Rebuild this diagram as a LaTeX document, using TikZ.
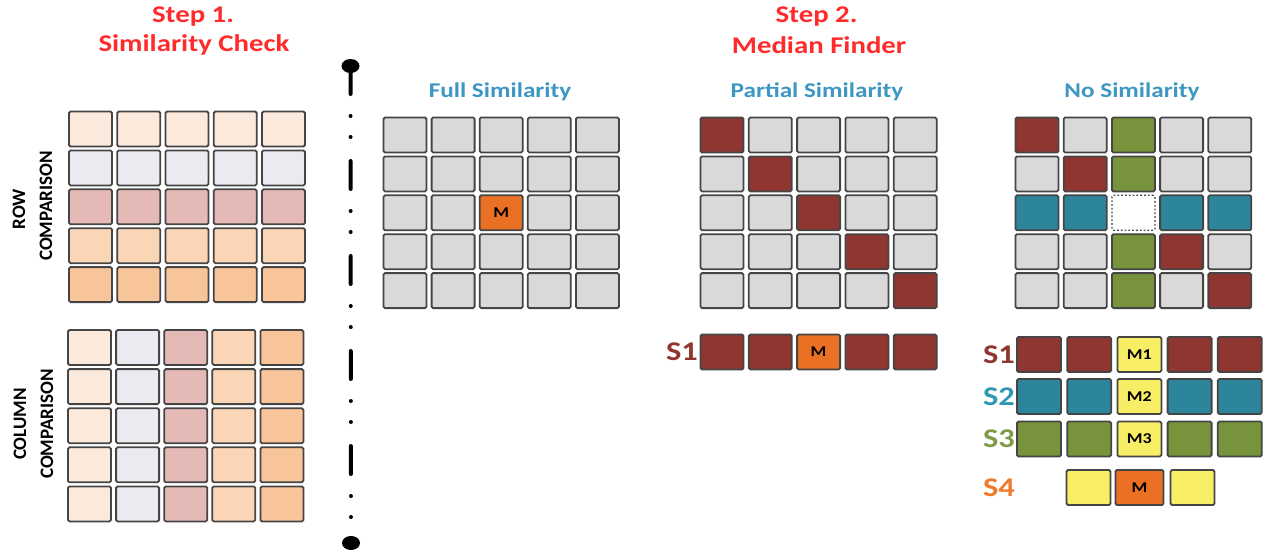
\documentclass[tikz,border=0pt]{standalone}
\usepackage{fontspec}
\setmainfont{Carlito}
\newfontfamily\widefont[FakeStretch=1.2]{Carlito}
\newfontfamily\sidefont{Carlito}
\usetikzlibrary{shapes.geometric}
\definecolor{cA}{HTML}{FBE9DB}
\definecolor{cB}{HTML}{EDE9F1}
\definecolor{cC}{HTML}{E4B9B6}
\definecolor{cD}{HTML}{FAD6B6}
\definecolor{cE}{HTML}{F8C59A}
\definecolor{cgray}{HTML}{D9D9D9}
\definecolor{cred}{HTML}{8F3631}
\definecolor{cgreen}{HTML}{77933C}
\definecolor{cteal}{HTML}{2C859B}
\definecolor{corange}{HTML}{EA7024}
\definecolor{cyellow}{HTML}{F8EE66}
\definecolor{stepred}{HTML}{FF2B2B}
\definecolor{titleblue}{HTML}{3D97C2}
\definecolor{lblteal}{HTML}{3097B5}
\definecolor{lblgreen}{HTML}{7F9B45}
\definecolor{lblorange}{HTML}{F07A2A}
\definecolor{edge}{HTML}{454545}
\tikzset{
  cell/.style={draw=edge, line width=1.8pt, rounded corners=1.5pt, minimum width=43pt, minimum height=35pt, inner sep=0pt, font=\widefont\bfseries\fontsize{15}{15}\selectfont},
  scell/.style={cell, minimum width=44pt},
  dotcell/.style={cell, fill=white, draw=edge, dotted, line width=1.3pt},
  steptitle/.style={text=stepred, font=\widefont\bfseries\fontsize{24}{24}\selectfont},
  sectitle/.style={text=titleblue, font=\widefont\bfseries\fontsize{21}{21}\selectfont},
  slabel/.style={font=\widefont\bfseries\fontsize{27}{27}\selectfont},
  sidelbl/.style={rotate=90, font=\sidefont\bfseries\fontsize{19}{19}\selectfont},
  ball/.style={ellipse, fill=black, minimum width=18pt, minimum height=14pt, inner sep=0pt},
  sepline/.style={line width=4pt, line cap=round, dash pattern=on 28pt off 22pt on 0pt off 21pt on 0pt off 24pt}
}
\begin{document}
\begin{tikzpicture}[x=1pt,y=-1pt]
\useasboundingbox (0,0) rectangle (1266,552);
% titles
\node[steptitle] (s1a) at (193,17) {Step 1.};
\node[steptitle] (s1b) at (194,45) {Similarity Check};
\node[steptitle] (s2a) at (816.5,17) {Step 2.};
\node[steptitle] (s2b) at (819,45) {Median Finder};
\node[sectitle] (tfull) at (500,92) {Full Similarity};
\node[sectitle] (tpart) at (817,92) {Partial Similarity};
\node[sectitle] (tnone) at (1132,92) {No Similarity};
% side labels
\node[sidelbl] (rowa) at (19,209) {ROW};
\node[sidelbl] (rowb) at (46,206) {COMPARISON};
\node[sidelbl] (cola) at (20,424) {COLUMN};
\node[sidelbl] (colb) at (47,424) {COMPARISON};
% row comparison
\foreach \c [count=\j from 0] in {cA,cB,cC,cD,cE}{
  \foreach \i in {0,...,4}{
    \node[cell, fill=\c] (rc-\i-\j) at ({90.5+48.25*\i},{129+38.9*\j}) {};
  }
}
% column comparison
\foreach \c [count=\i from 0] in {cA,cB,cC,cD,cE}{
  \foreach \j in {0,...,4}{
    \node[cell, fill=\c] (cc-\i-\j) at ({89.5+48.1*\i},{347.5+39.1*\j}) {};
  }
}
% separator
\node[ball] (top) at (350.5,66) {};
\node[ball] (bot) at (351,543) {};
\draw[sepline] (top.center) -- (bot.center);
% full similarity
\foreach \i in {0,...,4}{
  \foreach \j in {0,...,4}{
    \ifnum\i=2 \ifnum\j=2
      \node[cell, fill=corange] (fs-\i-\j) at ({405+48.1*\i},{135+38.9*\j}) {M};
    \else
      \node[cell, fill=cgray] (fs-\i-\j) at ({405+48.1*\i},{135+38.9*\j}) {};
    \fi
    \else
      \node[cell, fill=cgray] (fs-\i-\j) at ({405+48.1*\i},{135+38.9*\j}) {};
    \fi
  }
}
% partial similarity
\foreach \i in {0,...,4}{
  \foreach \j in {0,...,4}{
    \ifnum\i=\j
      \node[cell, fill=cred] (ps-\i-\j) at ({722+48.3*\i},{135+38.9*\j}) {};
    \else
      \node[cell, fill=cgray] (ps-\i-\j) at ({722+48.3*\i},{135+38.9*\j}) {};
    \fi
  }
}
\node[slabel, text=cred] (pS1) at (682,352) {S1};
\foreach \i in {0,1,3,4}{
  \node[cell, fill=cred] (p1-\i) at ({722+48.3*\i},352) {};
}
\node[cell, fill=corange] (p1-2) at ({722+48.3*2},352) {M};
% no similarity
\foreach \i/\j/\c in {0/0/cred,1/0/cgray,2/0/cgreen,3/0/cgray,4/0/cgray,
                      0/1/cgray,1/1/cred,2/1/cgreen,3/1/cgray,4/1/cgray,
                      0/2/cteal,1/2/cteal,3/2/cteal,4/2/cteal,
                      0/3/cgray,1/3/cgray,2/3/cgreen,3/3/cred,4/3/cgray,
                      0/4/cgray,1/4/cgray,2/4/cgreen,3/4/cgray,4/4/cred}{
  \node[cell, fill=\c] (ns-\i-\j) at ({1037+48.2*\i},{135+38.9*\j}) {};
}
\node[dotcell] (ns-2-2) at ({1037+48.2*2},{135+38.9*2}) {};
% S rows
\node[slabel, text=cred] (nS1) at (999,354.5) {S1};
\node[slabel, text=lblteal] (nS2) at (999,396.5) {S2};
\node[slabel, text=lblgreen] (nS3) at (999,439) {S3};
\node[slabel, text=lblorange] (nS4) at (999,487.5) {S4};
\foreach \c/\y/\m [count=\k] in {cred/354.5/M1, cteal/396.5/M2, cgreen/439/M3}{
  \foreach \i in {0,1,3,4}{
    \node[scell, fill=\c] (n\k-\i) at ({1039+50.2*\i},\y) {};
  }
  \node[scell, fill=cyellow] (n\k-2) at ({1039+50.2*2},\y) {\m};
}
\node[scell, fill=cyellow] (n4-0) at (1088.5,487.5) {};
\node[scell, fill=corange, minimum width=48pt] (n4-1) at (1139.5,487.5) {M};
\node[scell, fill=cyellow] (n4-2) at (1192.5,487.5) {};
\end{tikzpicture}
\end{document}
